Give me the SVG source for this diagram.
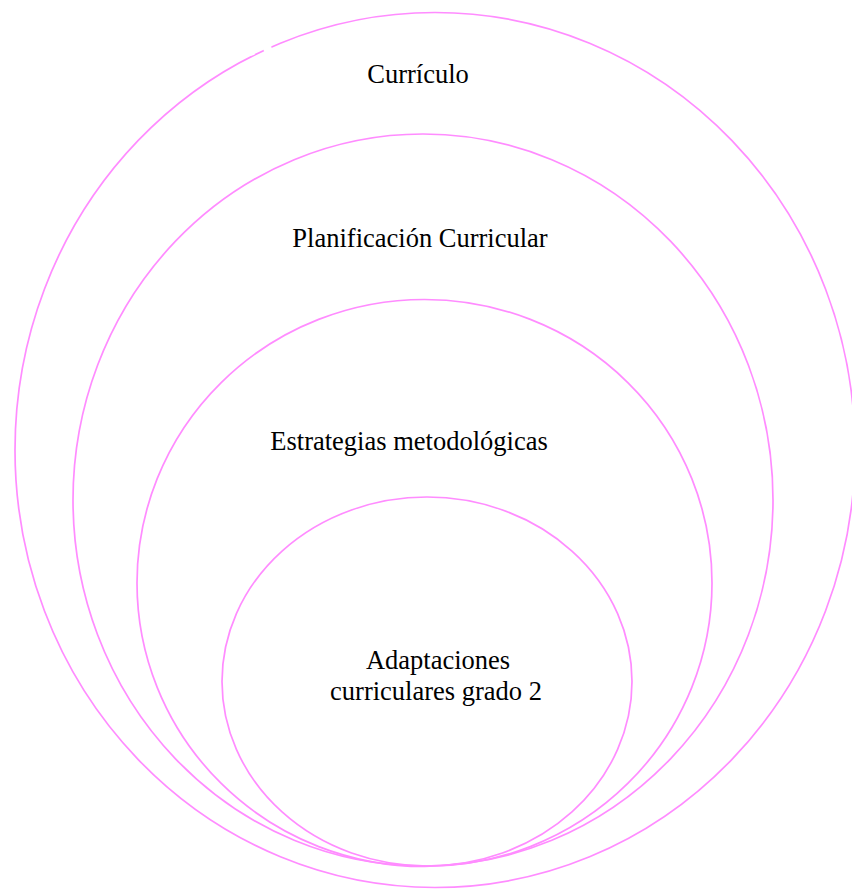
<svg xmlns="http://www.w3.org/2000/svg" width="852" height="890" viewBox="0 0 852 890">
<style>
.ring{fill:none;stroke:#ff8cff;stroke-width:1.7}
.lbl{font-family:"Liberation Serif","Times New Roman",serif;font-size:26.5px;fill:#000;text-anchor:middle}
.gap{stroke:#fff;stroke-width:5;fill:none}
</style>
<rect width="852" height="890" fill="#fff"/>
<g id="curriculo">
<ellipse class="ring" cx="435" cy="450" rx="420" ry="437.5"/>
<path class="gap" d="M250.5 53.4 L254 52.3 M263.5 49.5 L271.5 47.3"/>
<text class="lbl" x="418" y="83">Currículo</text>
</g>
<g id="planificacion">
<ellipse class="ring" cx="423" cy="500" rx="350" ry="366"/>
<text class="lbl" x="420" y="247">Planificación Curricular</text>
</g>
<g id="estrategias">
<ellipse class="ring" cx="424.5" cy="583" rx="287.5" ry="283.5"/>
<text class="lbl" x="409" y="450">Estrategias metodológicas</text>
</g>
<g id="adaptaciones">
<ellipse class="ring" cx="427" cy="681.5" rx="205" ry="184.5"/>
<text class="lbl" x="438" y="669">Adaptaciones</text>
<text class="lbl" x="436" y="700">curriculares grado 2</text>
</g>
<g id="connectors"/>
</svg>
